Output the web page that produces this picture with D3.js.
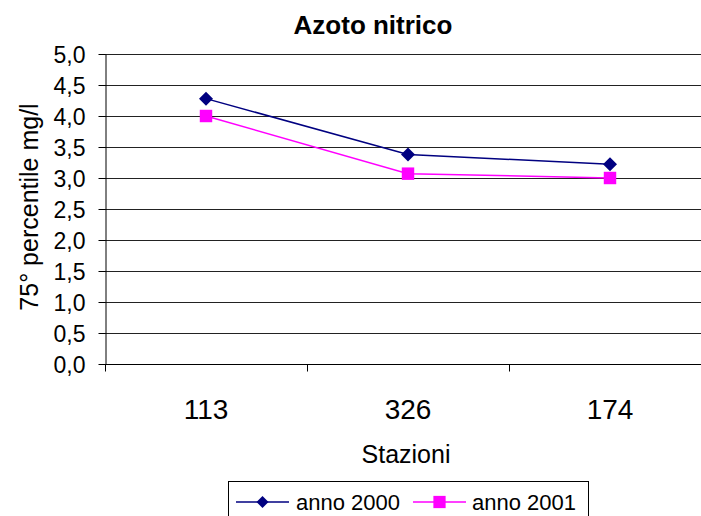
<!DOCTYPE html>
<html>
<head>
<meta charset="utf-8">
<script src="https://cdn.jsdelivr.net/npm/d3@7"></script>
<style>
  html, body { margin: 0; padding: 0; background: #fff; }
  svg { display: block; font-family: "Liberation Sans", Arial, sans-serif; }
</style>
</head>
<body>
<svg id="chart" width="701" height="516"></svg>
<script>
// Station categories and 75th percentile nitrate nitrogen (mg/l)
const stations = ["113", "326", "174"];
const anno2000 = [4.28, 3.38, 3.22];
const anno2001 = [4.00, 3.07, 3.00];
const yTicks = [0, 0.5, 1, 1.5, 2, 2.5, 3, 3.5, 4, 4.5, 5];
const seriesNames = ["anno 2000", "anno 2001"];

const svg = d3.select("#chart");
const margin = { left: 105, top: 54, right: 711, bottom: 364 };

const x = d3.scaleBand().domain(stations).range([margin.left, margin.right]);
const y = d3.scaleLinear().domain([0, 5]).range([margin.bottom, margin.top]);
const fmt = v => d3.format(".1f")(v).replace(".", ",");

// Horizontal gridlines
svg.append("g")
  .selectAll("line")
  .data(yTicks.filter(d => d > 0))
  .join("line")
  .attr("x1", margin.left).attr("x2", margin.right)
  .attr("y1", d => Math.round(y(d)) + 0.5).attr("y2", d => Math.round(y(d)) + 0.5)
  .attr("stroke", "#222").attr("stroke-width", 1);

// Y axis
const yAxis = svg.append("g")
  .attr("transform", `translate(${margin.left + 0.5},0)`)
  .call(d3.axisLeft(y).tickValues(yTicks).tickFormat(fmt).tickSize(7).tickSizeOuter(0));
yAxis.select(".domain").attr("stroke", "#000");
yAxis.selectAll(".tick line").attr("stroke", "#000");
yAxis.selectAll(".tick text").attr("font-size", 23).attr("fill", "#000").attr("x", -20)
  .attr("dy", "0.36em")
  .attr("font-family", "Liberation Sans, Arial, sans-serif");

// X axis with ticks at category boundaries
const xAxisG = svg.append("g").attr("transform", `translate(0,${Math.round(y(0)) + 0.5})`);
xAxisG.append("line").attr("x1", margin.left).attr("x2", margin.right).attr("stroke", "#000");
const boundaries = stations.map(s => x(s)).concat([x(stations[stations.length - 1]) + x.bandwidth()]);
xAxisG.selectAll("line.tk").data(boundaries).join("line").attr("class", "tk")
  .attr("x1", d => Math.round(d) + 0.5).attr("x2", d => Math.round(d) + 0.5)
  .attr("y1", 0).attr("y2", 7).attr("stroke", "#000");
xAxisG.selectAll("text").data(stations).join("text")
  .attr("x", d => x(d) + x.bandwidth() / 2).attr("y", 54)
  .attr("text-anchor", "middle").attr("font-size", 28).attr("fill", "#000")
  .text(d => d);

// Titles
svg.append("text").attr("x", 373).attr("y", 34).attr("text-anchor", "middle")
  .attr("font-size", 26).attr("font-weight", "bold").text("Azoto nitrico");
svg.append("text").attr("x", 406).attr("y", 463).attr("text-anchor", "middle")
  .attr("font-size", 25).text("Stazioni");
svg.append("text").attr("transform", "translate(38,207) rotate(-90)")
  .attr("text-anchor", "middle").attr("font-size", 25).text("75° percentile mg/l");

// Series
const cx = s => x(s) + x.bandwidth() / 2;
const line = d3.line().x((d, i) => cx(stations[i])).y(d => y(d));
const square = d3.symbol().type(d3.symbolSquare).size(155);

const series = [
  { name: seriesNames[0], values: anno2000, color: "#000080", sym: "diamond" },
  { name: seriesNames[1], values: anno2001, color: "#FF00FF", sym: "square" }
];
function symbolPath(kind) {
  if (kind === "diamond") {
    const r = 7;
    return `M0,${-r}L${r},0L0,${r}L${-r},0Z`;
  }
  return square();
}

// draw 2001 first so 2000 sits on top where they meet
series.slice().reverse().forEach(s => {
  svg.append("path").datum(s.values).attr("d", line)
    .attr("fill", "none").attr("stroke", s.color).attr("stroke-width", 1.5);
  svg.append("g").selectAll("path").data(s.values).join("path")
    .attr("transform", (d, i) => `translate(${cx(stations[i])},${y(d)})`)
    .attr("d", symbolPath(s.sym)).attr("fill", s.color);
});

// Legend
const lg = svg.append("g");
lg.append("rect").attr("x", 228.5).attr("y", 481.5).attr("width", 360).attr("height", 40)
  .attr("fill", "#fff").attr("stroke", "#000");
const items = [
  { s: series[0], x0: 236, tx: 296 },
  { s: series[1], x0: 413, tx: 472 }
];
items.forEach(it => {
  lg.append("line").attr("x1", it.x0).attr("x2", it.x0 + 53).attr("y1", 502).attr("y2", 502)
    .attr("stroke", it.s.color).attr("stroke-width", 1.5);
  lg.append("path").attr("transform", `translate(${it.x0 + 26.5},502)`)
    .attr("d", it.s.sym === "diamond" ? `M0,-6L6,0L0,6L-6,0Z` : d3.symbol().type(d3.symbolSquare).size(150)())
    .attr("fill", it.s.color);
  lg.append("text").attr("x", it.tx).attr("y", 510).attr("font-size", 22).text(it.s.name);
});
</script>
</body>
</html>
